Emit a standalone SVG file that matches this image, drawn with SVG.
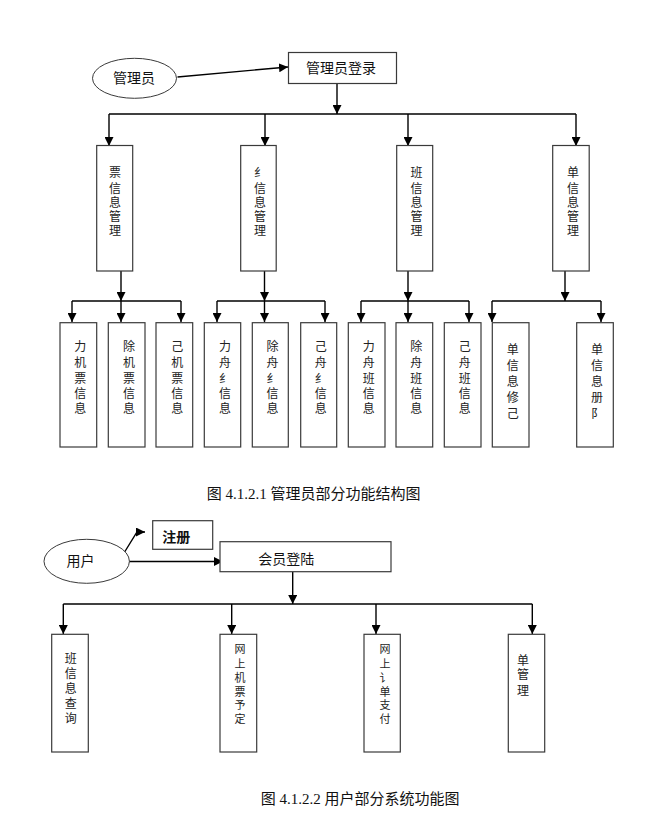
<svg xmlns="http://www.w3.org/2000/svg" width="652" height="834" viewBox="0 0 652 834">
<style>
.bg{fill:#fff}
.box{fill:#fff;stroke:#3a3a3a;stroke-width:1.2}
.ell{fill:#fff;stroke:#3a3a3a;stroke-width:1}
.ln{fill:none;stroke:#000;stroke-width:1.4}
.arr{marker-end:url(#ah)}
.t{font-family:"Liberation Serif","Noto Sans CJK SC",serif;font-size:14px;fill:#111;text-anchor:middle}
.v{font-family:"Liberation Serif","Noto Sans CJK SC",serif;font-size:12px;fill:#222;text-anchor:middle}
.vs{font-family:"Liberation Serif","Noto Sans CJK SC",serif;font-size:11px;fill:#222;text-anchor:middle}
.b{font-weight:bold}
.cap{font-family:"Liberation Serif","Noto Sans CJK SC",serif;font-size:15px;fill:#111}
</style>
<defs>
<marker id="ah" markerUnits="userSpaceOnUse" markerWidth="9" markerHeight="9" refX="9" refY="4.5" orient="auto">
<path d="M0,0 L9,4.5 L0,9 z" fill="#000"/>
</marker>
</defs>
<rect class="bg" x="0" y="0" width="652" height="834"/>

<g id="connectors">
<line class="ln arr" x1="177.5" y1="77" x2="288" y2="67"/>
<line class="ln arr" x1="337" y1="83" x2="337" y2="114"/>
<line class="ln" x1="109" y1="114" x2="576" y2="114"/>
<line class="ln arr" x1="109" y1="114" x2="109" y2="146"/>
<line class="ln arr" x1="265" y1="114" x2="265" y2="146"/>
<line class="ln arr" x1="408" y1="114" x2="408" y2="146"/>
<line class="ln arr" x1="576" y1="114" x2="576" y2="146"/>

<line class="ln arr" x1="121" y1="271" x2="121" y2="301"/>
<line class="ln arr" x1="264.5" y1="271" x2="264.5" y2="301"/>
<line class="ln arr" x1="408" y1="271" x2="408" y2="301"/>
<line class="ln arr" x1="565" y1="271" x2="565" y2="301"/>

<line class="ln" x1="72" y1="301" x2="181" y2="301"/>
<line class="ln arr" x1="72" y1="301" x2="72" y2="322"/>
<line class="ln arr" x1="121" y1="301" x2="121" y2="322"/>
<line class="ln arr" x1="181" y1="301" x2="181" y2="322"/>

<line class="ln" x1="217" y1="301" x2="325" y2="301"/>
<line class="ln arr" x1="217" y1="301" x2="217" y2="322"/>
<line class="ln arr" x1="264.5" y1="301" x2="264.5" y2="322"/>
<line class="ln arr" x1="325" y1="301" x2="325" y2="322"/>

<line class="ln" x1="361" y1="301" x2="469" y2="301"/>
<line class="ln arr" x1="361" y1="301" x2="361" y2="322"/>
<line class="ln arr" x1="408" y1="301" x2="408" y2="322"/>
<line class="ln arr" x1="469" y1="301" x2="469" y2="322"/>

<line class="ln" x1="492" y1="301" x2="601" y2="301"/>
<line class="ln arr" x1="492" y1="301" x2="492" y2="322"/>
<line class="ln arr" x1="601" y1="301" x2="601" y2="322"/>

<polyline class="ln arr" points="124,553 137,532 145,532"/>
<line class="ln arr" x1="129" y1="561.5" x2="223" y2="561.5"/>
<line class="ln arr" x1="292.7" y1="572" x2="292.7" y2="604"/>
<line class="ln" x1="63.3" y1="604" x2="532.3" y2="604"/>
<line class="ln arr" x1="63.3" y1="604" x2="63.3" y2="634"/>
<line class="ln arr" x1="231.7" y1="604" x2="231.7" y2="634"/>
<line class="ln arr" x1="376" y1="604" x2="376" y2="634"/>
<line class="ln arr" x1="532.3" y1="604" x2="532.3" y2="634"/>
</g>

<g id="admin">
<ellipse class="ell" cx="134.5" cy="78.3" rx="42" ry="20"/>
<text class="t" x="134" y="82.5">管理员</text>
</g>
<g id="admin-login">
<rect class="box" x="288.5" y="52.5" width="108" height="31"/>
<text class="t" x="341" y="73">管理员登录</text>
</g>

<g id="n-a">
<rect class="box" x="96.7" y="145.5" width="36" height="125.5"/>
<text class="v" x="115"><tspan x="115" y="177">票</tspan><tspan x="115" y="192.5">信</tspan><tspan x="115" y="207">息</tspan><tspan x="115" y="221">管</tspan><tspan x="115" y="235">理</tspan></text>
</g>
<g id="n-b">
<rect class="box" x="240.7" y="145.5" width="35.5" height="125.5"/>
<text class="v" x="260"><tspan x="260" y="177">纟</tspan><tspan x="260" y="192.5">信</tspan><tspan x="260" y="207">息</tspan><tspan x="260" y="221">管</tspan><tspan x="260" y="235">理</tspan></text>
</g>
<g id="n-c">
<rect class="box" x="396.7" y="145.5" width="36" height="125.5"/>
<text class="v" x="416.5"><tspan x="416.5" y="177">班</tspan><tspan x="416.5" y="192.5">信</tspan><tspan x="416.5" y="207">息</tspan><tspan x="416.5" y="221">管</tspan><tspan x="416.5" y="235">理</tspan></text>
</g>
<g id="n-d">
<rect class="box" x="552.7" y="145.5" width="36.5" height="125.5"/>
<text class="v" x="573"><tspan x="573" y="177">单</tspan><tspan x="573" y="192.5">信</tspan><tspan x="573" y="207">息</tspan><tspan x="573" y="221">管</tspan><tspan x="573" y="235">理</tspan></text>
</g>

<g id="n-a1">
<rect class="box" x="60" y="322.7" width="36.7" height="124.3"/>
<text class="v"><tspan x="80.3" y="350.5">力</tspan><tspan x="80.3" y="366.5">机</tspan><tspan x="80.3" y="382.5">票</tspan><tspan x="80.3" y="397.5">信</tspan><tspan x="80.3" y="412.5">息</tspan></text>
</g>
<g id="n-a2">
<rect class="box" x="108.3" y="322.7" width="36.7" height="124.3"/>
<text class="v"><tspan x="129" y="350.5">除</tspan><tspan x="129" y="366.5">机</tspan><tspan x="129" y="382.5">票</tspan><tspan x="129" y="397.5">信</tspan><tspan x="129" y="412.5">息</tspan></text>
</g>
<g id="n-a3">
<rect class="box" x="156" y="322.7" width="36.7" height="124.3"/>
<text class="v"><tspan x="177.3" y="350.5">己</tspan><tspan x="177.3" y="366.5">机</tspan><tspan x="177.3" y="382.5">票</tspan><tspan x="177.3" y="397.5">信</tspan><tspan x="177.3" y="412.5">息</tspan></text>
</g>
<g id="n-b1">
<rect class="box" x="204.3" y="322.7" width="36.4" height="124.3"/>
<text class="v"><tspan x="225" y="350.5">力</tspan><tspan x="225" y="366.5">舟</tspan><tspan x="225" y="382.5">纟</tspan><tspan x="225" y="397.5">信</tspan><tspan x="225" y="412.5">息</tspan></text>
</g>
<g id="n-b2">
<rect class="box" x="252.3" y="322.7" width="36" height="124.3"/>
<text class="v"><tspan x="272.5" y="350.5">除</tspan><tspan x="272.5" y="366.5">舟</tspan><tspan x="272.5" y="382.5">纟</tspan><tspan x="272.5" y="397.5">信</tspan><tspan x="272.5" y="412.5">息</tspan></text>
</g>
<g id="n-b3">
<rect class="box" x="300.7" y="322.7" width="36" height="124.3"/>
<text class="v"><tspan x="320.7" y="350.5">己</tspan><tspan x="320.7" y="366.5">舟</tspan><tspan x="320.7" y="382.5">纟</tspan><tspan x="320.7" y="397.5">信</tspan><tspan x="320.7" y="412.5">息</tspan></text>
</g>
<g id="n-c1">
<rect class="box" x="348.3" y="322.7" width="36.7" height="124.3"/>
<text class="v"><tspan x="368.7" y="350.5">力</tspan><tspan x="368.7" y="366.5">舟</tspan><tspan x="368.7" y="382.5">班</tspan><tspan x="368.7" y="397.5">信</tspan><tspan x="368.7" y="412.5">息</tspan></text>
</g>
<g id="n-c2">
<rect class="box" x="396" y="322.7" width="36.7" height="124.3"/>
<text class="v"><tspan x="416.3" y="350.5">除</tspan><tspan x="416.3" y="366.5">舟</tspan><tspan x="416.3" y="382.5">班</tspan><tspan x="416.3" y="397.5">信</tspan><tspan x="416.3" y="412.5">息</tspan></text>
</g>
<g id="n-c3">
<rect class="box" x="444.3" y="322.7" width="36.7" height="124.3"/>
<text class="v"><tspan x="464.7" y="350.5">己</tspan><tspan x="464.7" y="366.5">舟</tspan><tspan x="464.7" y="382.5">班</tspan><tspan x="464.7" y="397.5">信</tspan><tspan x="464.7" y="412.5">息</tspan></text>
</g>
<g id="n-d1">
<rect class="box" x="492.3" y="322.7" width="36.7" height="124.3"/>
<text class="v"><tspan x="512.7" y="354">单</tspan><tspan x="512.7" y="370">信</tspan><tspan x="512.7" y="386">息</tspan><tspan x="512.7" y="402">修</tspan><tspan x="512.7" y="418">己</tspan></text>
</g>
<g id="n-d2">
<rect class="box" x="576.7" y="322.7" width="36.6" height="124.3"/>
<text class="v"><tspan x="597" y="354">单</tspan><tspan x="597" y="370">信</tspan><tspan x="597" y="386">息</tspan><tspan x="597" y="402">册</tspan><tspan x="597" y="418">阝</tspan></text>
</g>

<text class="cap" x="206.7" y="499">图 4.1.2.1 管理员部分功能结构图</text>

<g id="user">
<ellipse class="ell" cx="86.7" cy="561.3" rx="42.7" ry="22"/>
<text class="t" x="80.5" y="566">用户</text>
</g>
<g id="register">
<rect class="box" x="152.7" y="520.7" width="60" height="28.6"/>
<text class="t b" x="176.3" y="542">注册</text>
</g>
<g id="member-login">
<rect class="box" x="220" y="541.7" width="171" height="30"/>
<text class="t" x="286.3" y="564">会员登陆</text>
</g>

<g id="n-e1">
<rect class="box" x="51.7" y="634.3" width="36.6" height="117.7"/>
<text class="v"><tspan x="70.7" y="662.5">班</tspan><tspan x="70.7" y="677.5">信</tspan><tspan x="70.7" y="692.5">息</tspan><tspan x="70.7" y="707.5">查</tspan><tspan x="70.7" y="722.5">询</tspan></text>
</g>
<g id="n-e2">
<rect class="box" x="220" y="634.3" width="36.7" height="117.7"/>
<text class="vs"><tspan x="240" y="653">网</tspan><tspan x="240" y="668">上</tspan><tspan x="240" y="682">机</tspan><tspan x="240" y="695.5">票</tspan><tspan x="240" y="709">予</tspan><tspan x="240" y="722.5">定</tspan></text>
</g>
<g id="n-e3">
<rect class="box" x="364" y="634.3" width="36.3" height="117.7"/>
<text class="vs"><tspan x="385" y="653">网</tspan><tspan x="385" y="668">上</tspan><tspan x="385" y="682">讠</tspan><tspan x="385" y="695.5">单</tspan><tspan x="385" y="709">支</tspan><tspan x="385" y="722.5">付</tspan></text>
</g>
<g id="n-e4">
<rect class="box" x="508.3" y="634.3" width="36.4" height="117.7"/>
<text class="v"><tspan x="523" y="664.5">单</tspan><tspan x="523" y="679">管</tspan><tspan x="523" y="695">理</tspan></text>
</g>

<text class="cap" x="260.7" y="804">图 4.1.2.2 用户部分系统功能图</text>
</svg>
